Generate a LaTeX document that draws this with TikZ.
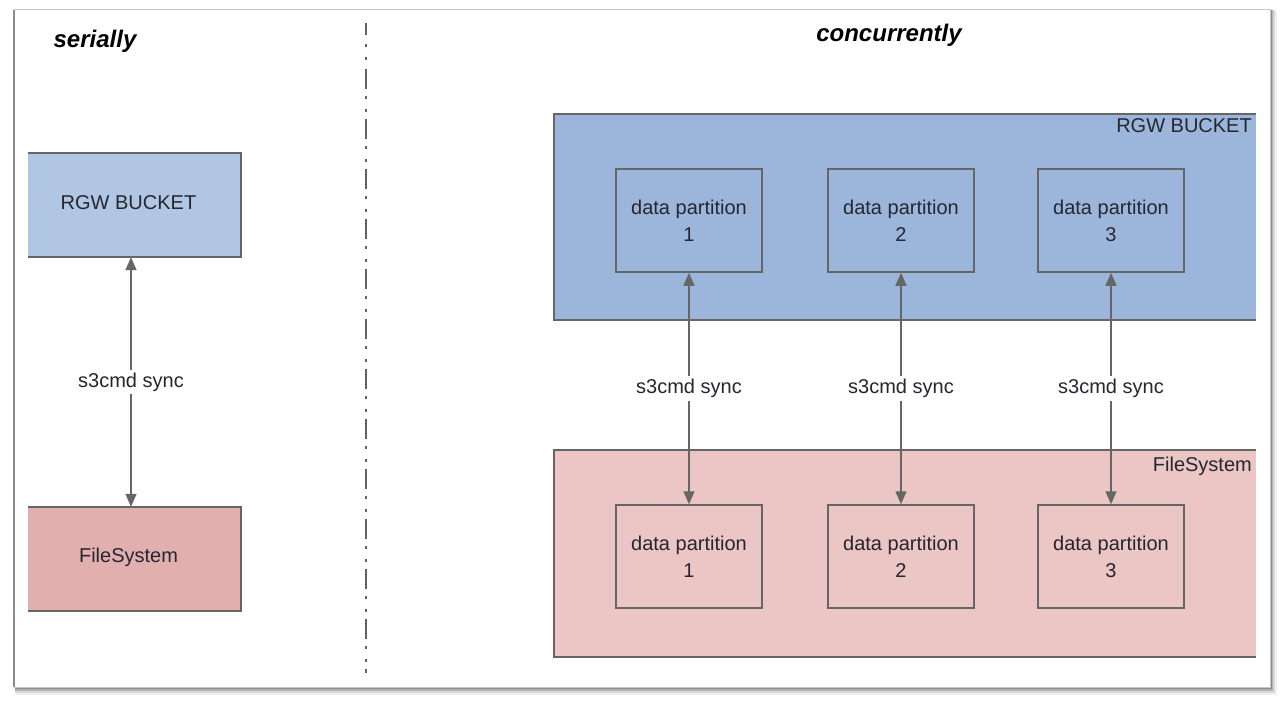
\documentclass[tikz,border=0pt]{standalone}
\usepackage{fontspec}
\setmainfont{Liberation Sans}
\usetikzlibrary{arrows.meta}
\definecolor{bluel}{HTML}{B0C6E2}
\definecolor{bluer}{HTML}{9CB6DB}
\definecolor{pinkl}{HTML}{E2AFAF}
\definecolor{pinkr}{HTML}{ECC5C5}
\definecolor{edge}{HTML}{666666}
\definecolor{txt}{HTML}{262630}
\tikzset{
  every node/.style={text=txt, font=\fontsize{20}{27}\selectfont},
  title/.style={font=\fontsize{24}{28}\selectfont\bfseries\itshape, text=black},
  part/.style={draw=edge, line width=1.5pt, minimum width=146pt, minimum height=103pt, align=center, inner sep=0pt},
  conn/.style={draw=edge, line width=1.5pt, {Triangle[width=11pt,length=13pt]}-{Triangle[width=11pt,length=13pt]}},
  lbl/.style={fill=white, inner xsep=1pt, inner ysep=3pt},
  rim/.style={draw=edge, line width=1.5pt},
  divider/.style={draw=black!62, line width=1.3pt}
}
\begin{document}
\begin{tikzpicture}[x=1pt,y=-1pt]
\useasboundingbox (0,0) rectangle (1280,702);
% frame with shadow
\fill[black!6] (16,11) rectangle (1277,695);
\fill[black!15] (15,10) rectangle (1275,693);
\fill[black!30] (15,10) rectangle (1273,691);
\fill[black!45] (15,10) rectangle (1271.5,689);
\fill[white, draw=black!22, line width=1pt] (14,9) rectangle (1270,687);
\draw[black!45, line width=1.5pt] (14,10) -- (14,687);

% divider
\draw[divider, dash pattern=on 20pt off 7pt on 3pt off 10pt on 3pt off 7pt] (366,69) -- (366,673);
\draw[divider] (366,23) -- (366,35);
\draw[divider, dash pattern=on 3pt off 10pt] (366,44) -- (366,62);

% titles
\node[title] (t1) at (95,41) {serially};
\node[title] (t2) at (889,35) {concurrently};

% left side
\node[fill=bluel, minimum width=213pt, minimum height=104pt, inner sep=0pt] (lb) at (134.5,205) {};
\draw[rim] (lb.north west) -- (lb.north east) -- (lb.south east) -- (lb.south west);
\node (lbt) at (128.5,203) {RGW BUCKET};
\node[fill=pinkl, minimum width=213pt, minimum height=104pt, inner sep=0pt] (lf) at (134.5,559) {};
\draw[rim] (lf.north west) -- (lf.north east) -- (lf.south east) -- (lf.south west);
\node (lft) at (128.5,557) {FileSystem};
\draw[conn] ([xshift=-3.5pt]lb.south) -- ([xshift=-3.5pt]lf.north) node[midway, lbl] (ls) {s3cmd sync};

% right side containers
\node[fill=bluer, minimum width=702pt, minimum height=206pt, inner sep=0pt] (rb) at (905,217) {};
\draw[rim] (rb.north east) -- (rb.north west) -- (rb.south west) -- (rb.south east);
\node[anchor=north east, inner sep=0pt] (rbt) at (1252,118) {RGW BUCKET};
\node[fill=pinkr, minimum width=702pt, minimum height=207pt, inner sep=0pt] (rf) at (905,553.5) {};
\draw[rim] (rf.north east) -- (rf.north west) -- (rf.south west) -- (rf.south east);
\node[anchor=north east, inner sep=0pt] (rft) at (1252,457) {FileSystem};

% partitions
\node[part] (b1) at (689,220.5) {data partition\\1};
\node[part] (b2) at (901,220.5) {data partition\\2};
\node[part] (b3) at (1111,220.5) {data partition\\3};
\node[part] (f1) at (689,556.5) {data partition\\1};
\node[part] (f2) at (901,556.5) {data partition\\2};
\node[part] (f3) at (1111,556.5) {data partition\\3};

\draw[conn] (b1.south) -- (f1.north) node[midway, lbl] (s1) {s3cmd sync};
\draw[conn] (b2.south) -- (f2.north) node[midway, lbl] (s2) {s3cmd sync};
\draw[conn] (b3.south) -- (f3.north) node[midway, lbl] (s3) {s3cmd sync};
\end{tikzpicture}
\end{document}
